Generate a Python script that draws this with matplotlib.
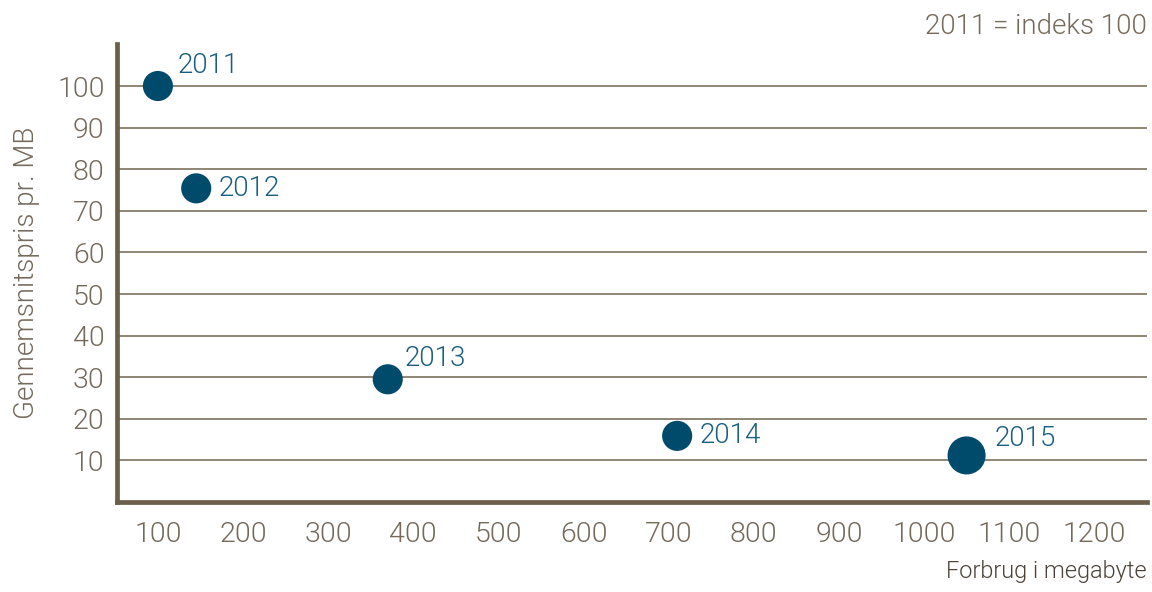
"""
Gennemsnitspris pr. MB vs. forbrug i megabyte (2011 = indeks 100)
"""
import matplotlib
matplotlib.use("Agg")
import matplotlib.pyplot as plt

plt.rcParams['font.family'] = ['Roboto', 'DejaVu Sans']
plt.rcParams['font.weight'] = 300
plt.rcParams['axes.labelweight'] = 300

years = ["2011", "2012", "2013", "2014", "2015"]
usage_mb = [100, 145, 370, 710, 1050]
price_index = [100, 75.4, 29.5, 15.9, 11.2]
bubble_size = [470, 470, 470, 470, 750]
# label offsets (points) relative to dot
label_dx = [14, 16, 12, 16, 20]
label_dy = [15, 0, 15, 0, 12]

x_ticks = [100, 200, 300, 400, 500, 600, 700, 800, 900, 1000, 1100, 1200]
y_ticks = [10, 20, 30, 40, 50, 60, 70, 80, 90, 100]

AXIS_COL = "#6b5f4b"
GRID_COL = "#8f8575"
TEXT_COL = "#74695a"
DOT_COL = "#004b6b"
LABEL_COL = "#1a5e80"

fig = plt.figure(figsize=(11.52, 5.92), dpi=100)
ax = fig.add_axes([0.1016, 0.152, 0.8941, 0.773])

ax.scatter(usage_mb, price_index, s=bubble_size, color=DOT_COL, zorder=3, linewidths=0)
for yr, x, y, dx, dy in zip(years, usage_mb, price_index, label_dx, label_dy):
    ax.annotate(yr, (x, y), xytext=(dx, dy), textcoords="offset points",
                ha="left", va="center", fontsize=20, color=LABEL_COL, zorder=4)

ax.set_xlim(52, 1262)
ax.set_ylim(0, 110)
ax.set_xticks(x_ticks)
ax.set_yticks(y_ticks)
ax.tick_params(axis="both", length=0, labelsize=20.5, labelcolor=TEXT_COL)
ax.tick_params(axis="x", pad=14)
ax.tick_params(axis="y", pad=9)

ax.grid(axis="y", color=GRID_COL, linewidth=1.4, zorder=1)
ax.set_axisbelow(True)

for side in ("top", "right"):
    ax.spines[side].set_visible(False)
for side in ("left", "bottom"):
    ax.spines[side].set_color(AXIS_COL)
    ax.spines[side].set_linewidth(3.4)

ax.set_ylabel("Gennemsnitspris pr. MB", fontsize=20, color=TEXT_COL, labelpad=12)
fig.text(0.9957, 0.015, "Forbrug i megabyte", ha="right", va="bottom",
         fontsize=17, color="#4a4238")
fig.text(0.9957, 0.932, "2011 = indeks 100", ha="right", va="bottom",
         fontsize=20, color=TEXT_COL)

fig.savefig("out.png", dpi=100)
plt.close(fig)
